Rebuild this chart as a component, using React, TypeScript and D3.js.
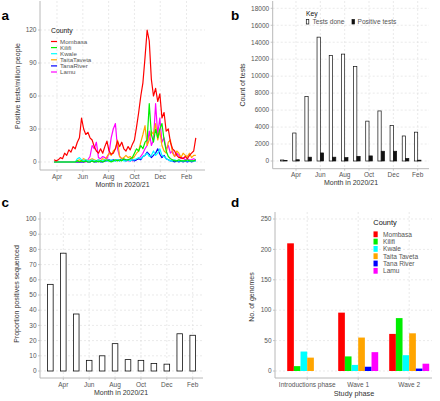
import React from 'react';
import * as d3 from 'd3';

const FONT = "'Liberation Sans', Arial, Helvetica, sans-serif";
const TICK_COL = '#555555';
const AXIS_COL = '#b8b8b8';
const GRID_COL = '#dcdcdc';

// ---------- Panel a data ----------
const seriesStart = '2020-03-25';
const stepDays = 5;
const countiesA = ['Mombasa', 'Kilifi', 'Kwale', 'TaitaTaveta', 'TanaRiver', 'Lamu'];
const countyColors = ['#ff0000', '#00ee00', '#00ffff', '#ffa500', '#0000ff', '#ff00ff'];
const mombasa = [2, 1, 2, 4, 3, 8, 6, 11, 9, 14, 12, 18, 22, 40, 30, 25, 27, 22, 20, 14, 10, 8, 12, 8, 14, 19, 10, 7, 8, 12, 19, 14, 18, 12, 10, 14, 11, 16, 20, 32, 45, 60, 72, 95, 120, 110, 75, 60, 67, 55, 62, 40, 45, 28, 30, 18, 12, 10, 6, 4, 4, 3, 5, 3, 6, 8, 10, 22];
const kilifi = [0, 0, 0, 0, 0, 0, 0, 0, 0, 0, 0, 1, 0, 1, 0, 1, 0, 0, 1, 0, 1, 0, 1, 0, 1, 2, 1, 0, 1, 2, 1, 2, 1, 3, 2, 2, 3, 4, 8, 12, 10, 15, 12, 18, 20, 53, 25, 18, 30, 22, 30, 35, 20, 10, 5, 3, 2, 1, 1, 2, 1, 1, 1, 2, 1, 1, 1, 2];
const kwale = [0, 0, 0, 0, 0, 0, 0, 0, 0, 0, 0, 3, 4, 2, 1, 2, 1, 1, 2, 1, 1, 2, 1, 1, 2, 1, 1, 2, 1, 1, 2, 1, 2, 1, 1, 2, 1, 2, 2, 3, 4, 3, 5, 6, 8, 5, 6, 10, 6, 8, 12, 6, 5, 3, 2, 1, 1, 2, 1, 1, 1, 1, 1, 1, 1, 1, 1, 1];
const taitaTaveta = [0, 0, 0, 0, 0, 0, 0, 0, 0, 0, 0, 1, 2, 1, 3, 2, 1, 2, 3, 2, 1, 2, 1, 3, 2, 5, 8, 6, 10, 12, 20, 5, 3, 4, 6, 4, 5, 3, 5, 8, 10, 18, 25, 33, 15, 20, 28, 25, 35, 20, 28, 15, 10, 8, 18, 20, 8, 5, 10, 8, 4, 8, 6, 5, 8, 4, 6, 6];
const tanaRiver = [0, 0, 0, 0, 0, 0, 0, 0, 0, 0, 0, 0, 0, 0, 0, 1, 0, 0, 1, 0, 0, 1, 0, 0, 1, 1, 2, 1, 2, 1, 2, 1, 3, 2, 1, 2, 1, 2, 1, 2, 3, 2, 5, 6, 9, 7, 4, 6, 8, 12, 7, 4, 6, 3, 2, 1, 1, 0, 1, 0, 1, 0, 1, 0, 1, 0, 1, 1];
const lamu = [0, 0, 0, 0, 0, 0, 0, 0, 0, 0, 0, 0, 0, 0, 0, 0, 2, 5, 15, 12, 18, 4, 3, 5, 4, 3, 8, 22, 30, 35, 12, 5, 3, 2, 2, 1, 2, 1, 2, 2, 3, 5, 8, 12, 15, 28, 15, 20, 53, 25, 40, 18, 22, 12, 15, 8, 10, 5, 8, 6, 3, 4, 2, 3, 2, 2, 3, 2];
const seriesA = [mombasa, kilifi, kwale, taitaTaveta, tanaRiver, lamu];
const monthTickLabels = ['Apr', 'Jun', 'Aug', 'Oct', 'Dec', 'Feb'];
const monthTickDates = ['2020-04-01', '2020-06-01', '2020-08-01', '2020-10-01', '2020-12-01', '2021-02-01'];
const yTicksA = [0, 30, 60, 90, 120];

// ---------- Panel b data ----------
const monthsBC = ['Mar', 'Apr', 'May', 'Jun', 'Jul', 'Aug', 'Sep', 'Oct', 'Nov', 'Dec', 'Jan', 'Feb'];
const testsDone = [120, 3300, 7600, 14600, 12450, 12600, 11150, 4700, 5900, 4200, 2950, 3400];
const positiveTests = [60, 150, 450, 950, 450, 400, 550, 600, 1150, 1150, 300, 100];
const yTicksB = [0, 2000, 4000, 6000, 8000, 10000, 12000, 14000, 16000, 18000];

// ---------- Panel c data ----------
const propSequenced = [57, 77.5, 37.5, 7, 10, 18, 7.5, 7, 5, 4.5, 24.5, 23.5];
const yTicksC = [0, 10, 20, 30, 40, 50, 60, 70, 80, 90, 100];

// ---------- Panel d data ----------
const phases = ['Introductions phase', 'Wave 1', 'Wave 2'];
const countiesD = ['Mombasa', 'Kilifi', 'Kwale', 'Taita Taveta', 'Tana River', 'Lamu'];
const genomesMombasa = [210, 96, 61];
const genomesKilifi = [8, 24, 87];
const genomesKwale = [32, 10, 26];
const genomesTaitaTaveta = [22, 55, 62];
const genomesTanaRiver = [0, 7, 4];
const genomesLamu = [0, 31, 12];
const genomesByCounty = [genomesMombasa, genomesKilifi, genomesKwale, genomesTaitaTaveta, genomesTanaRiver, genomesLamu];
const yTicksD = [0, 50, 100, 150, 200, 250];

const parse = d3.timeParse('%Y-%m-%d');
const TICK_FS = 6.5;
const TITLE_FS = 7;

function YAxis({ x, ticks, scale, x1 }: any) {
  return (
    <g>
      {ticks.map((t: number) => (
        <g key={t}>
          <line x1={x} x2={x1} y1={scale(t)} y2={scale(t)} stroke={GRID_COL} strokeWidth={0.6} strokeDasharray="2,2" />
          <line x1={x - 2} x2={x} y1={scale(t)} y2={scale(t)} stroke={AXIS_COL} strokeWidth={0.8} />
          <text x={x - 3.5} y={scale(t)} dy="0.35em" textAnchor="end" fontSize={TICK_FS} fill={TICK_COL} fontFamily={FONT}>
            {t}
          </text>
        </g>
      ))}
    </g>
  );
}

function XTicks({ positions, labels, y, gridTop }: any) {
  return (
    <g>
      {positions.map((p: number, i: number) => (
        <g key={i}>
          <line x1={p} x2={p} y1={gridTop} y2={y} stroke={GRID_COL} strokeWidth={0.6} strokeDasharray="2,2" />
          <line x1={p} x2={p} y1={y} y2={y + 2} stroke={AXIS_COL} strokeWidth={0.8} />
          <text x={p} y={y + 8.5} textAnchor="middle" fontSize={TICK_FS} fill={TICK_COL} fontFamily={FONT}>
            {labels[i]}
          </text>
        </g>
      ))}
    </g>
  );
}

function Frame({ left, right, top, bottom }: any) {
  return (
    <g>
      <line x1={left} x2={left} y1={top} y2={bottom} stroke={AXIS_COL} strokeWidth={1} />
      <line x1={left} x2={right} y1={bottom} y2={bottom} stroke={AXIS_COL} strokeWidth={1} />
    </g>
  );
}

function PanelA() {
  const left = 40, right = 205, top = 1, bottom = 170;
  const x = d3.scaleTime().domain([parse('2020-04-01')!, parse('2021-02-01')!]).range([57, 186.5]);
  const y = d3.scaleLinear().domain([0, 120]).range([162, 30]);
  const start = parse(seriesStart)!;
  const line = d3.line<number>().x((_, i) => x(d3.timeDay.offset(start, i * stepDays))).y((d) => y(d));
  const tickPos = monthTickDates.map((d) => x(parse(d)!));
  return (
    <g>
      <YAxis x={left} ticks={yTicksA} scale={y} x1={right} />
      <XTicks positions={tickPos} labels={monthTickLabels} y={bottom} gridTop={top} />
      <Frame left={left} right={right} top={top} bottom={bottom} />
      {seriesA.map((s, i) => (
        <path key={i} d={line(s) || ''} fill="none" stroke={countyColors[i]} strokeWidth={1.2} strokeLinejoin="round" />
      )).reverse()}
      <text x={51} y={33} fontSize={6.8} fill="#111" fontFamily={FONT}>County</text>
      {countiesA.map((c, i) => (
        <g key={c}>
          <line x1={51} x2={57} y1={41.5 + i * 6.1} y2={41.5 + i * 6.1} stroke={countyColors[i]} strokeWidth={1.2} />
          <text x={60} y={41.5 + i * 6.1} dy="0.35em" fontSize={6.2} fill={TICK_COL} fontFamily={FONT}>{c}</text>
        </g>
      ))}
      <text transform={`translate(20,86) rotate(-90)`} textAnchor="middle" fontSize={TITLE_FS} fill="#333" fontFamily={FONT}>
        Positive tests/million people
      </text>
      <text x={122.5} y={186.5} textAnchor="middle" fontSize={TITLE_FS} fill="#333" fontFamily={FONT}>Month in 2020/21</text>
    </g>
  );
}

function PanelB() {
  const left = 272.7, right = 429, top = 1, bottom = 168.7;
  const x = d3.scaleLinear().domain([1, 11]).range([296, 417.7]);
  const y = d3.scaleLinear().domain([0, 18000]).range([161, 8.3]);
  const bw = 3.3;
  const tickIdx = monthTickLabels.map((m) => monthsBC.indexOf(m));
  return (
    <g>
      <YAxis x={left} ticks={yTicksB} scale={y} x1={right} />
      <XTicks positions={tickIdx.map((i) => x(i))} labels={monthTickLabels} y={bottom} gridTop={top} />
      <Frame left={left} right={right} top={top} bottom={bottom} />
      {testsDone.map((v, i) => (
        <rect key={'t' + i} x={x(i) - bw} y={y(v)} width={bw} height={y(0) - y(v)} fill="#fff" stroke="#111" strokeWidth={0.7} />
      ))}
      {positiveTests.map((v, i) => (
        <rect key={'p' + i} x={x(i)} y={y(v)} width={bw} height={y(0) - y(v)} fill="#111" stroke="#111" strokeWidth={0.7} />
      ))}
      <text x={306} y={16} fontSize={6.8} fill="#111" fontFamily={FONT}>Key</text>
      <rect x={306.3} y={19.5} width={2.5} height={4.5} fill="#fff" stroke="#111" strokeWidth={0.7} />
      <text x={312.5} y={22} dy="0.35em" fontSize={6.6} fill={TICK_COL} fontFamily={FONT}>Tests done</text>
      <rect x={352} y={19.5} width={2.5} height={4.5} fill="#111" stroke="#111" strokeWidth={0.7} />
      <text x={357.5} y={22} dy="0.35em" fontSize={6.6} fill={TICK_COL} fontFamily={FONT}>Positive tests</text>
      <text transform={`translate(245,85) rotate(-90)`} textAnchor="middle" fontSize={TITLE_FS} fill="#333" fontFamily={FONT}>
        Count of tests
      </text>
      <text x={351} y={185} textAnchor="middle" fontSize={TITLE_FS} fill="#333" fontFamily={FONT}>Month in 2020/21</text>
    </g>
  );
}

function PanelC() {
  const left = 40, right = 203, top = 212, bottom = 378;
  const x = d3.scaleLinear().domain([1, 11]).range([63.3, 192.7]);
  const y = d3.scaleLinear().domain([0, 100]).range([371, 219]);
  const bw = 5.6;
  const tickIdx = monthTickLabels.map((m) => monthsBC.indexOf(m));
  return (
    <g>
      <YAxis x={left} ticks={yTicksC} scale={y} x1={right} />
      <XTicks positions={tickIdx.map((i) => x(i))} labels={monthTickLabels} y={bottom} gridTop={top} />
      <Frame left={left} right={right} top={top} bottom={bottom} />
      {propSequenced.map((v, i) => (
        <rect key={i} x={x(i) - bw / 2} y={y(v)} width={bw} height={y(0) - y(v)} fill="#fff" stroke="#111" strokeWidth={0.8} />
      ))}
      <text transform={`translate(19,294) rotate(-90)`} textAnchor="middle" fontSize={TITLE_FS} fill="#333" fontFamily={FONT}>
        Proportion positives sequenced
      </text>
      <text x={121} y={394.5} textAnchor="middle" fontSize={TITLE_FS} fill="#333" fontFamily={FONT}>Month in 2020/21</text>
    </g>
  );
}

function PanelD() {
  const left = 275, right = 432, top = 212, bottom = 378;
  const x0 = d3.scaleBand().domain(phases).range([281.7, 434.7]);
  const inner = d3.scaleBand().domain(countiesD).range([-20, 20]);
  const y = d3.scaleLinear().domain([0, 250]).range([371, 219]);
  const centers = phases.map((p) => (x0(p) as number) + x0.bandwidth() / 2);
  const step = 7.3;
  return (
    <g>
      <YAxis x={left} ticks={yTicksD} scale={y} x1={right} />
      <XTicks positions={centers} labels={phases} y={bottom} gridTop={top} />
      <Frame left={left} right={right} top={top} bottom={bottom} />
      {genomesByCounty.map((vals, ci) =>
        vals.map((v, pi) => (
          <rect
            key={ci + '-' + pi}
            x={centers[pi] + (inner(countiesD[ci]) as number)}
            y={y(v)}
            width={inner.bandwidth()}
            height={y(0) - y(v)}
            fill={countyColors[ci]}
          />
        ))
      )}
      <text x={373.3} y={225} fontSize={7.4} fill="#111" fontFamily={FONT}>County</text>
      {countiesD.map((c, i) => (
        <g key={c}>
          <rect x={373.5} y={231.4 + i * step} width={4.2} height={5.8} fill={countyColors[i]} />
          <text x={383} y={234.3 + i * step} dy="0.35em" fontSize={6.6} fill={TICK_COL} fontFamily={FONT}>{c}</text>
        </g>
      ))}
      <text transform={`translate(254,297) rotate(-90)`} textAnchor="middle" fontSize={TITLE_FS} fill="#333" fontFamily={FONT}>
        No. of genomes
      </text>
      <text x={354} y={396} textAnchor="middle" fontSize={7.3} fill="#333" fontFamily={FONT}>Study phase</text>
    </g>
  );
}

export default function App() {
  return (
    <svg width={440} height={401} style={{ position: 'absolute', left: 0, top: 0, background: '#fff' }}>
      <rect width={440} height={401} fill="#fff" />
      <PanelA />
      <PanelB />
      <PanelC />
      <PanelD />
      <text x={1.5} y={20} fontSize={13.5} fontWeight="bold" fill="#000" fontFamily={FONT}>a</text>
      <text x={231} y={20} fontSize={13.5} fontWeight="bold" fill="#000" fontFamily={FONT}>b</text>
      <text x={1.5} y={207} fontSize={13.5} fontWeight="bold" fill="#000" fontFamily={FONT}>c</text>
      <text x={231} y={207} fontSize={13.5} fontWeight="bold" fill="#000" fontFamily={FONT}>d</text>
    </svg>
  );
}
